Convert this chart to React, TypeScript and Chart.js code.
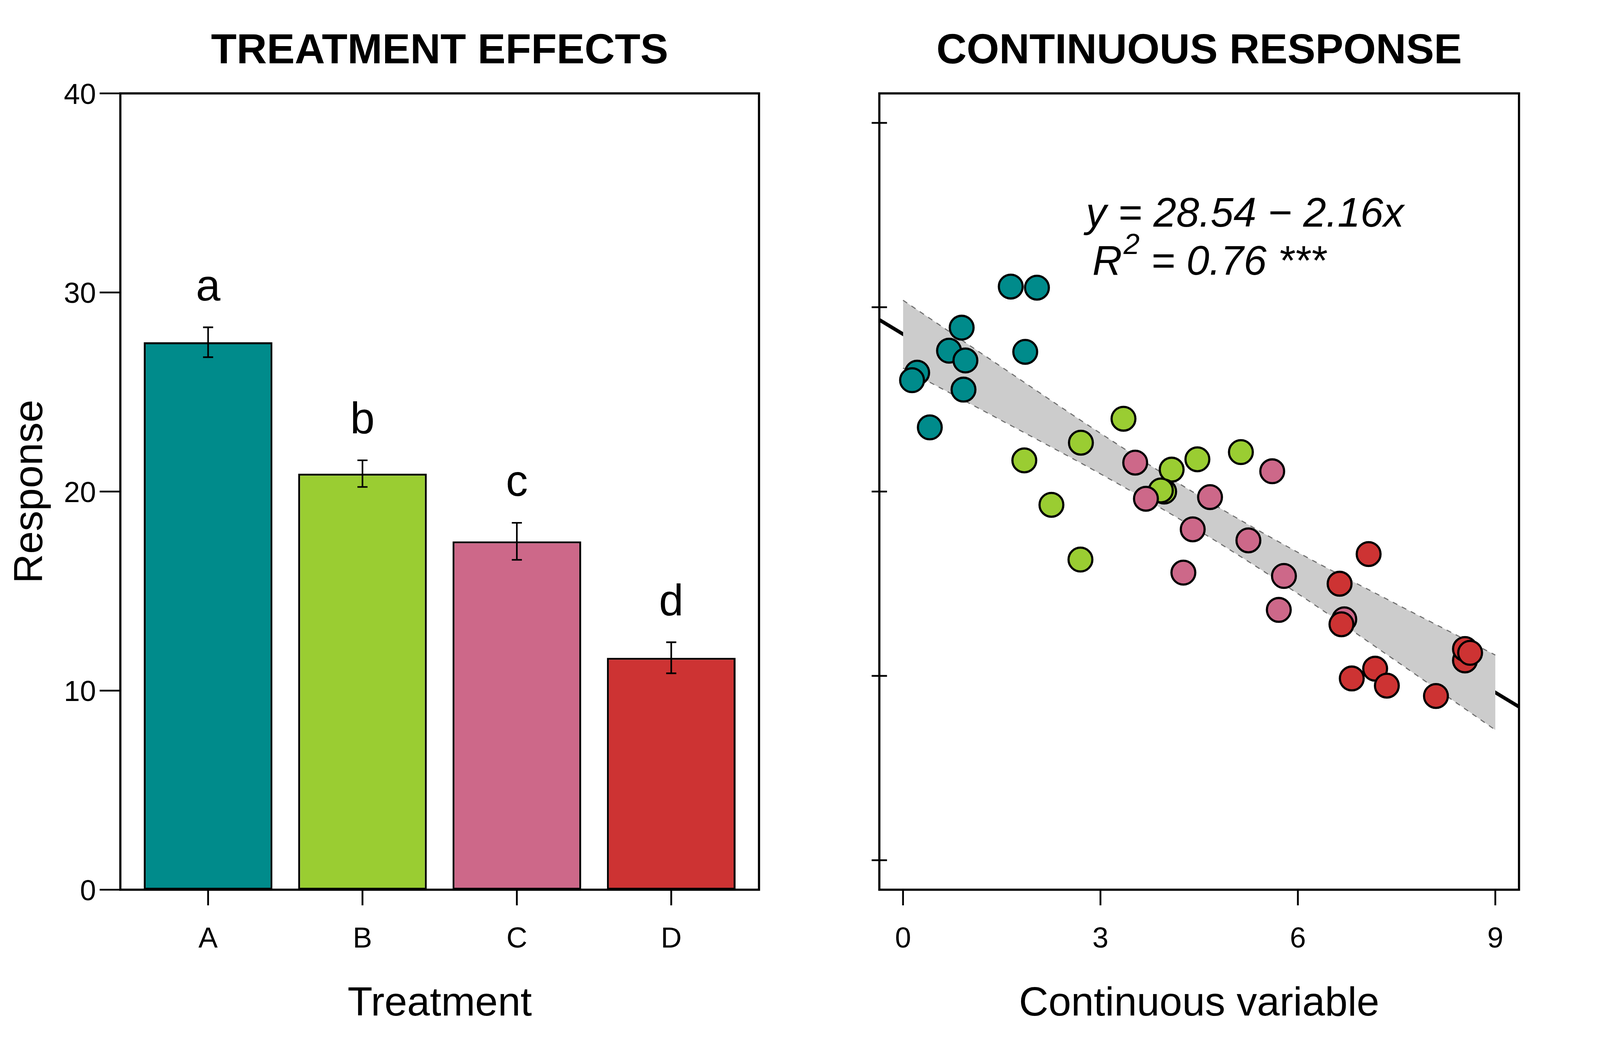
import React, { useEffect, useRef } from "react";
import { Chart, registerables } from "chart.js";

Chart.register(...registerables);

const FONT = '"Liberation Sans", Arial, Helvetica, sans-serif';

// ---------- Left panel: treatment effects ----------
const treatments = ["A", "B", "C", "D"];
const treatmentPositions = [1, 2, 3, 4];
const treatmentMeans = [27.5, 20.9, 17.5, 11.65];
const treatmentSE = [0.75, 0.67, 0.93, 0.78];
const treatmentLetters = ["a", "b", "c", "d"];
const treatmentColors = ["#008B8B", "#9ACD32", "#CD6889", "#CD3333"];
const responseTicks = [0, 10, 20, 30, 40];

// ---------- Right panel: continuous response ----------
const groupAX = [0.215, 0.137, 0.407, 0.699, 0.891, 0.948, 0.919, 1.637, 2.035, 1.857];
const groupAY = [26.45, 26.04, 23.48, 27.64, 28.89, 27.11, 25.53, 31.12, 31.06, 27.58];
const groupBX = [1.843, 2.255, 2.703, 2.696, 3.35, 4.082, 3.968, 3.918, 4.473, 5.134];
const groupBY = [21.69, 19.28, 22.65, 16.31, 23.95, 21.19, 20.0, 20.06, 21.75, 22.14];
const groupCX = [3.528, 3.691, 4.665, 4.402, 4.26, 5.248, 5.61, 5.788, 5.71, 6.705];
const groupCY = [21.57, 19.61, 19.7, 17.95, 15.6, 17.35, 21.1, 15.42, 13.58, 13.07];
const groupDX = [6.634, 6.662, 7.075, 6.819, 7.174, 7.352, 8.098, 8.539, 8.539, 8.617];
const groupDY = [15.0, 12.8, 16.61, 9.86, 10.39, 9.47, 8.91, 10.84, 11.46, 11.25];
const groupColors = ["#008B8B", "#9ACD32", "#CD6889", "#CD3333"];

const bandX = [0, 1.5, 3, 4.5, 6, 7.5, 9];
const bandUpper = [30.38, 26.75, 23.16, 19.77, 16.7, 13.89, 11.13];
const bandLower = [26.7, 23.85, 20.96, 17.87, 14.46, 10.79, 7.07];

const fitIntercept = 28.54;
const fitSlope = -2.16;
const contXRange = [-0.36, 9.36];
const contYRange = [-1.6, 41.6];
const contXTicks = [0, 3, 6, 9];
const contYTicks = [0, 10, 20, 30, 40];

const eqLine1 = "y = 28.54 \u2212 2.16x";
const eqLine2Main = " = 0.76 ***";
const eqAnchor1 = { x: 2.78, y: 34.37 };
const eqAnchor2 = { x: 2.877, y: 31.76 };

// design frame (reference pixels)
const BASE_W = 4800;
const BASE_H = 2700;

type Scale = { sx: number; sy: number; k: number; w: number; h: number };

const toPoints = (xs: number[], ys: number[]) => xs.map((x, i) => ({ x, y: ys[i] }));

function drawFrame(chart: any, cfg: any, S: Scale) {
  const { ctx, chartArea: a, scales } = chart;
  const xs = scales.x;
  const ys = scales.y;
  const { sx, sy, k } = S;
  ctx.save();
  ctx.strokeStyle = "#000";
  ctx.fillStyle = "#000";
  ctx.lineWidth = 6 * k;
  ctx.lineCap = "butt";
  ctx.strokeRect(a.left, a.top, a.right - a.left, a.bottom - a.top);
  ctx.lineWidth = 5 * k;
  ctx.beginPath();
  cfg.yTicks.forEach((v: number) => {
    const y = ys.getPixelForValue(v);
    ctx.moveTo(a.left - cfg.yTickOut * sx, y);
    ctx.lineTo(a.left + cfg.yTickIn * sx, y);
  });
  cfg.xTicks.forEach((v: number) => {
    const x = xs.getPixelForValue(v);
    ctx.moveTo(x, a.bottom);
    ctx.lineTo(x, a.bottom + 40 * sy);
  });
  ctx.stroke();

  ctx.font = `${80 * k}px ${FONT}`;
  ctx.textBaseline = "alphabetic";
  if (cfg.yLabels) {
    ctx.textAlign = "right";
    cfg.yTicks.forEach((v: number) => {
      const y = ys.getPixelForValue(v);
      ctx.fillText(String(v), a.left - 73 * sx, y + 29 * k);
    });
  }
  ctx.textAlign = "center";
  cfg.xTicks.forEach((v: number, i: number) => {
    const x = xs.getPixelForValue(v);
    ctx.fillText(cfg.xLabels[i], x, 2425 * sy);
  });

  const cx = (a.left + a.right) / 2;
  ctx.font = `${113 * k}px ${FONT}`;
  ctx.fillText(cfg.xTitle, cx, 2599 * sy);
  if (cfg.yTitle) {
    ctx.save();
    ctx.translate(126 * sx, (a.top + a.bottom) / 2);
    ctx.rotate(-Math.PI / 2);
    ctx.fillText(cfg.yTitle, 0, 0);
    ctx.restore();
  }
  ctx.font = `bold ${116 * k}px ${FONT}`;
  ctx.fillText(cfg.title, cx, 162 * sy);
  ctx.restore();
}

function makeBarPlugin(S: Scale) {
  return {
    id: "barExtras",
    afterDraw(chart: any) {
      const { ctx, scales } = chart;
      const xs = scales.x;
      const ys = scales.y;
      ctx.save();
      ctx.strokeStyle = "#000";
      ctx.fillStyle = "#000";
      ctx.lineWidth = 4.5 * S.k;
      treatmentPositions.forEach((p, i) => {
        const x = xs.getPixelForValue(p);
        const yTop = ys.getPixelForValue(treatmentMeans[i] + treatmentSE[i]);
        const yBot = ys.getPixelForValue(treatmentMeans[i] - treatmentSE[i]);
        const cap = 14 * S.k;
        ctx.beginPath();
        ctx.moveTo(x, yTop);
        ctx.lineTo(x, yBot);
        ctx.moveTo(x - cap, yTop);
        ctx.lineTo(x + cap, yTop);
        ctx.moveTo(x - cap, yBot);
        ctx.lineTo(x + cap, yBot);
        ctx.stroke();
        ctx.font = `${122 * S.k}px ${FONT}`;
        ctx.textAlign = "center";
        ctx.textBaseline = "alphabetic";
        ctx.fillText(treatmentLetters[i], x, yTop - 69 * S.sy);
      });
      ctx.restore();
      drawFrame(
        chart,
        {
          yTicks: responseTicks,
          yTickOut: 62,
          yTickIn: 0,
          yLabels: true,
          xTicks: treatmentPositions,
          xLabels: treatments,
          xTitle: "Treatment",
          yTitle: "Response",
          title: "TREATMENT EFFECTS",
        },
        S
      );
    },
  };
}

function makeScatterPlugin(S: Scale) {
  return {
    id: "scatterExtras",
    afterDraw(chart: any) {
      const { ctx, scales } = chart;
      const xs = scales.x;
      const ys = scales.y;
      const k = S.k;
      ctx.save();
      ctx.fillStyle = "#000";
      ctx.textAlign = "left";
      ctx.textBaseline = "alphabetic";
      ctx.font = `italic ${114 * k}px ${FONT}`;
      ctx.fillText(eqLine1, xs.getPixelForValue(eqAnchor1.x), ys.getPixelForValue(eqAnchor1.y));
      const rx = xs.getPixelForValue(eqAnchor2.x);
      const ry = ys.getPixelForValue(eqAnchor2.y);
      ctx.fillText("R", rx, ry);
      const rw = ctx.measureText("R").width;
      ctx.font = `italic ${80 * k}px ${FONT}`;
      ctx.fillText("2", rx + rw + 4 * k, ry - 58 * k);
      const sw = ctx.measureText("2").width;
      ctx.font = `italic ${114 * k}px ${FONT}`;
      ctx.fillText(eqLine2Main, rx + rw + 4 * k + sw, ry);
      ctx.restore();
      drawFrame(
        chart,
        {
          yTicks: contYTicks,
          yTickOut: 23,
          yTickIn: 23,
          yLabels: false,
          xTicks: contXTicks,
          xLabels: contXTicks.map(String),
          xTitle: "Continuous variable",
          yTitle: null,
          title: "CONTINUOUS RESPONSE",
        },
        S
      );
    },
  };
}

function BarPanel({ S }: { S: Scale }) {
  const ref = useRef<HTMLCanvasElement>(null);
  useEffect(() => {
    if (!ref.current) return;
    const cw = S.w / 2;
    const chart = new Chart(ref.current, {
      type: "bar",
      data: {
        datasets: [
          {
            data: treatmentPositions.map((p, i) => ({ x: p, y: treatmentMeans[i] })),
            backgroundColor: treatmentColors,
            borderColor: "#000",
            borderWidth: 5.5 * S.k,
            borderSkipped: false,
            categoryPercentage: 1,
            barPercentage: 0.8333,
          } as any,
        ],
      },
      options: {
        animation: false,
        responsive: false,
        devicePixelRatio: window.devicePixelRatio || 1,
        layout: {
          padding: {
            left: 361 * S.sx,
            right: cw - 2277 * S.sx,
            top: 239 * S.sy,
            bottom: S.h - 2277 * S.sy,
          },
        },
        plugins: { legend: { display: false }, tooltip: { enabled: false } },
        scales: {
          x: {
            type: "linear",
            min: 0.4315,
            max: 4.5685,
            offset: false,
            display: false,
            afterBuildTicks: (s: any) => {
              s.ticks = treatmentPositions.map((v) => ({ value: v }));
            },
          },
          y: { type: "linear", min: 0, max: 40, display: false },
        },
      } as any,
      plugins: [makeBarPlugin(S)],
    });
    return () => chart.destroy();
  }, [S]);
  return (
    <canvas
      ref={ref}
      width={Math.round(S.w / 2)}
      height={Math.round(S.h)}
      style={{ position: "absolute", left: 0, top: 0, width: S.w / 2, height: S.h, display: "block" }}
    />
  );
}

function ScatterPanel({ S }: { S: Scale }) {
  const ref = useRef<HTMLCanvasElement>(null);
  useEffect(() => {
    if (!ref.current) return;
    const cw = S.w / 2;
    const pointStyle = (color: string, order: number, xs: number[], ys: number[]) => ({
      type: "scatter",
      data: toPoints(xs, ys),
      backgroundColor: color,
      borderColor: "#000",
      borderWidth: 6 * S.k,
      pointRadius: 33 * S.k,
      pointHoverRadius: 33 * S.k,
      showLine: false,
      order,
    });
    const chart = new Chart(ref.current, {
      type: "scatter",
      data: {
        datasets: [
          {
            type: "line",
            data: contXRange.map((x) => ({ x, y: fitIntercept + fitSlope * x })),
            borderColor: "#000",
            borderWidth: 10 * S.k,
            pointRadius: 0,
            fill: false,
            order: 10,
          },
          {
            type: "line",
            data: toPoints(bandX, bandUpper),
            borderColor: "#6E6E6E",
            borderWidth: 3 * S.k,
            borderDash: [14 * S.k, 14 * S.k],
            backgroundColor: "#CCCCCC",
            pointRadius: 0,
            cubicInterpolationMode: "monotone",
            fill: "+1",
            order: 9,
          },
          {
            type: "line",
            data: toPoints(bandX, bandLower),
            borderColor: "#6E6E6E",
            borderWidth: 3 * S.k,
            borderDash: [14 * S.k, 14 * S.k],
            pointRadius: 0,
            cubicInterpolationMode: "monotone",
            fill: false,
            order: 8,
          },
          pointStyle(groupColors[0], 4, groupAX, groupAY),
          pointStyle(groupColors[1], 3, groupBX, groupBY),
          pointStyle(groupColors[2], 2, groupCX, groupCY),
          pointStyle(groupColors[3], 1, groupDX, groupDY),
        ] as any,
      },
      options: {
        animation: false,
        responsive: false,
        devicePixelRatio: window.devicePixelRatio || 1,
        layout: {
          padding: {
            left: 238 * S.sx,
            right: cw - 2157 * S.sx,
            top: 239 * S.sy,
            bottom: S.h - 2277 * S.sy,
          },
        },
        plugins: { legend: { display: false }, tooltip: { enabled: false } },
        scales: {
          x: { type: "linear", min: contXRange[0], max: contXRange[1], display: false },
          y: { type: "linear", min: contYRange[0], max: contYRange[1], display: false },
        },
      } as any,
      plugins: [makeScatterPlugin(S)],
    });
    return () => chart.destroy();
  }, [S]);
  return (
    <canvas
      ref={ref}
      width={Math.round(S.w / 2)}
      height={Math.round(S.h)}
      style={{ position: "absolute", left: S.w / 2, top: 0, width: S.w / 2, height: S.h, display: "block" }}
    />
  );
}

function getScale(): Scale {
  const w = window.innerWidth || BASE_W;
  const h = window.innerHeight || BASE_H;
  const sx = w / BASE_W;
  const sy = h / BASE_H;
  return { sx, sy, k: Math.sqrt(sx * sy), w, h };
}

export default function App() {
  const [S] = React.useState<Scale>(getScale);
  return (
    <div
      style={{
        position: "fixed",
        left: 0,
        top: 0,
        width: S.w,
        height: S.h,
        background: "#fff",
        overflow: "hidden",
      }}
    >
      <BarPanel S={S} />
      <ScatterPanel S={S} />
    </div>
  );
}
